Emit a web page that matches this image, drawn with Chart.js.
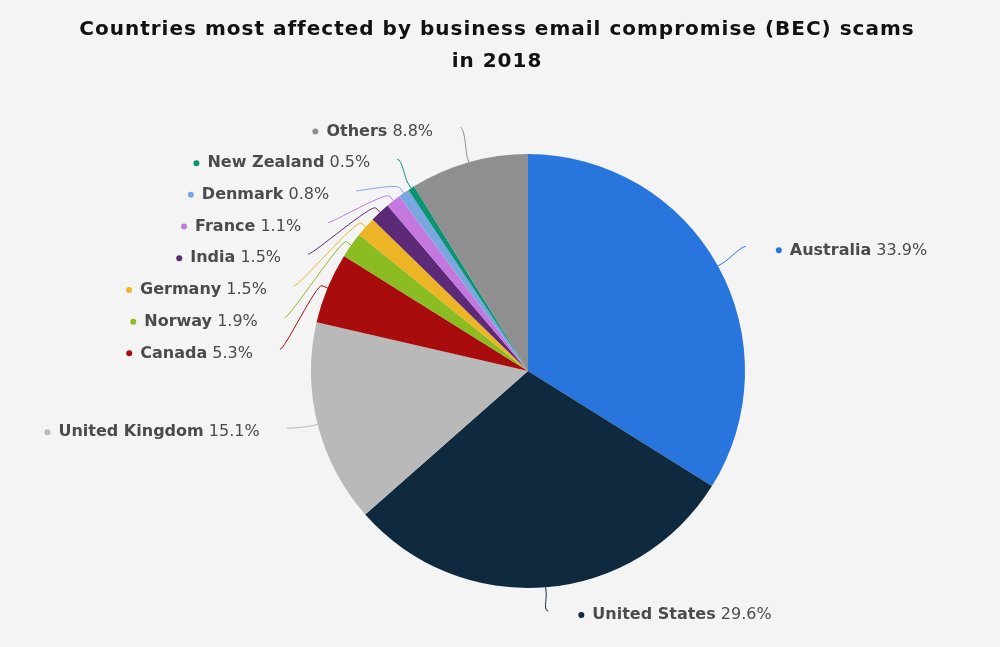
<!DOCTYPE html>
<html>
<head>
<meta charset="utf-8">
<title>BEC scams 2018</title>
<script src="https://cdn.jsdelivr.net/npm/chart.js@4.4.0/dist/chart.umd.min.js"></script>
<style>
  html, body { margin: 0; padding: 0; background: #f4f4f4; }
  #wrap { width: 1000px; height: 647px; }
</style>
</head>
<body>
<div id="wrap"><canvas id="pie" width="1000" height="647"></canvas></div>
<script>
const titleLines = ['Countries most affected by business email compromise (BEC) scams', 'in 2018'];
const countries = ['Australia', 'United States', 'United Kingdom', 'Canada', 'Norway', 'Germany',
  'India', 'France', 'Denmark', 'New Zealand', 'Others'];
const shares = [33.9, 29.6, 15.1, 5.3, 1.9, 1.5, 1.5, 1.1, 0.8, 0.5, 8.8];
const sliceColors = ['#2876dd', '#0f2a3f', '#b9b9b9', '#a90c0c', '#8bbc21', '#edb526',
  '#5c2a77', '#c477dd', '#7aa7e0', '#0a9474', '#8f8f8f'];

const FONT = '"DejaVu Sans", Verdana, sans-serif';
const LABEL_PX = 16;

// title drawn at canvas centre (pie itself sits a bit right of centre)
const titlePlugin = {
  id: 'titleLines',
  afterDraw(chart) {
    const ctx = chart.ctx;
    ctx.save();
    ctx.font = 'bold 20px ' + FONT;
    ctx.letterSpacing = '1px';
    ctx.fillStyle = '#111111';
    ctx.textAlign = 'center';
    ctx.textBaseline = 'middle';
    titleLines.forEach((t, i) => ctx.fillText(t, chart.width / 2 - 3, 30 + i * 32));
    ctx.restore();
  }
};

// outside labels with soft connectors, left side stacked to avoid overlap
const pieLabels = {
  id: 'pieLabels',
  afterDatasetsDraw(chart) {
    const ctx = chart.ctx;
    const arcs = chart.getDatasetMeta(0).data;
    const dist = 32, gap = 31.7, maxY = chart.height - 32, bend = 6, lift = 4;

    const items = arcs.map((arc, i) => {
      const p = arc.getProps(['x', 'y', 'startAngle', 'endAngle', 'outerRadius'], true);
      const a = (p.startAngle + p.endAngle) / 2;
      const cos = Math.cos(a), sin = Math.sin(a);
      const R = p.outerRadius + dist;
      return { i, cx: p.x, cy: p.y, r: p.outerRadius, R, cos, sin, left: cos < 0,
        nx: p.x + R * cos, ny: p.y + R * sin };
    });

    [true, false].forEach((side) => {
      const group = items.filter((it) => it.left === side).sort((a, b) => a.ny - b.ny);
      let prev = -Infinity;
      group.forEach((it) => {
        let y = Math.max(it.ny, prev + gap);
        let x = it.nx;
        if (y > it.ny + 0.5) {
          // pushed labels slide along the label circle
          const dy = y - lift - it.cy;
          x = it.cx + (it.left ? -1 : 1) * Math.sqrt(Math.max(it.R * it.R - dy * dy, 0));
        }
        if (y > maxY) y = maxY;
        it.ax = x; it.ay = y; prev = y;
      });
    });

    ctx.save();
    items.forEach((it) => {
      const col = sliceColors[it.i];
      const tx = it.cx + it.r * it.cos, ty = it.cy + it.r * it.sin;
      const bx = it.cx + (it.r + bend) * it.cos, by = it.cy + (it.r + bend) * it.sin;
      const lx = it.ax, ly = it.ay - lift;

      ctx.beginPath();
      ctx.moveTo(lx, ly);
      ctx.bezierCurveTo(lx + (it.left ? 5 : -5), ly, 2 * bx - tx, 2 * by - ty, bx, by);
      ctx.lineTo(tx, ty);
      ctx.strokeStyle = col;
      ctx.lineWidth = 1;
      ctx.stroke();

      const name = countries[it.i];
      const val = shares[it.i].toFixed(1) + '%';
      ctx.font = 'bold ' + LABEL_PX + 'px ' + FONT;
      const nameW = ctx.measureText(name).width;
      ctx.font = LABEL_PX + 'px ' + FONT;
      const valW = ctx.measureText(val).width;
      const spaceW = ctx.measureText(' ').width;

      let nameX;
      if (it.left) {
        nameX = it.ax - 27 - valW - spaceW - nameW;
      } else {
        nameX = it.ax + 44;
      }
      const y = it.ay;

      ctx.beginPath();
      ctx.arc(nameX - 11, y, 3, 0, Math.PI * 2);
      ctx.fillStyle = col;
      ctx.fill();

      ctx.textAlign = 'left';
      ctx.textBaseline = 'middle';
      ctx.fillStyle = '#4b4b4b';
      ctx.font = 'bold ' + LABEL_PX + 'px ' + FONT;
      ctx.fillText(name, nameX, y);
      ctx.font = LABEL_PX + 'px ' + FONT;
      ctx.fillText(val, nameX + nameW + spaceW, y);
    });
    ctx.restore();
  }
};

new Chart(document.getElementById('pie'), {
  type: 'pie',
  data: {
    labels: countries,
    datasets: [{
      data: shares,
      backgroundColor: sliceColors,
      borderWidth: 0
    }]
  },
  options: {
    responsive: false,
    animation: false,
    events: [],
    layout: { padding: { top: 154, bottom: 59, left: 56, right: 0 } },
    plugins: {
      legend: { display: false },
      tooltip: { enabled: false },
      title: { display: false }
    }
  },
  plugins: [pieLabels, titlePlugin]
});
</script>
</body>
</html>
